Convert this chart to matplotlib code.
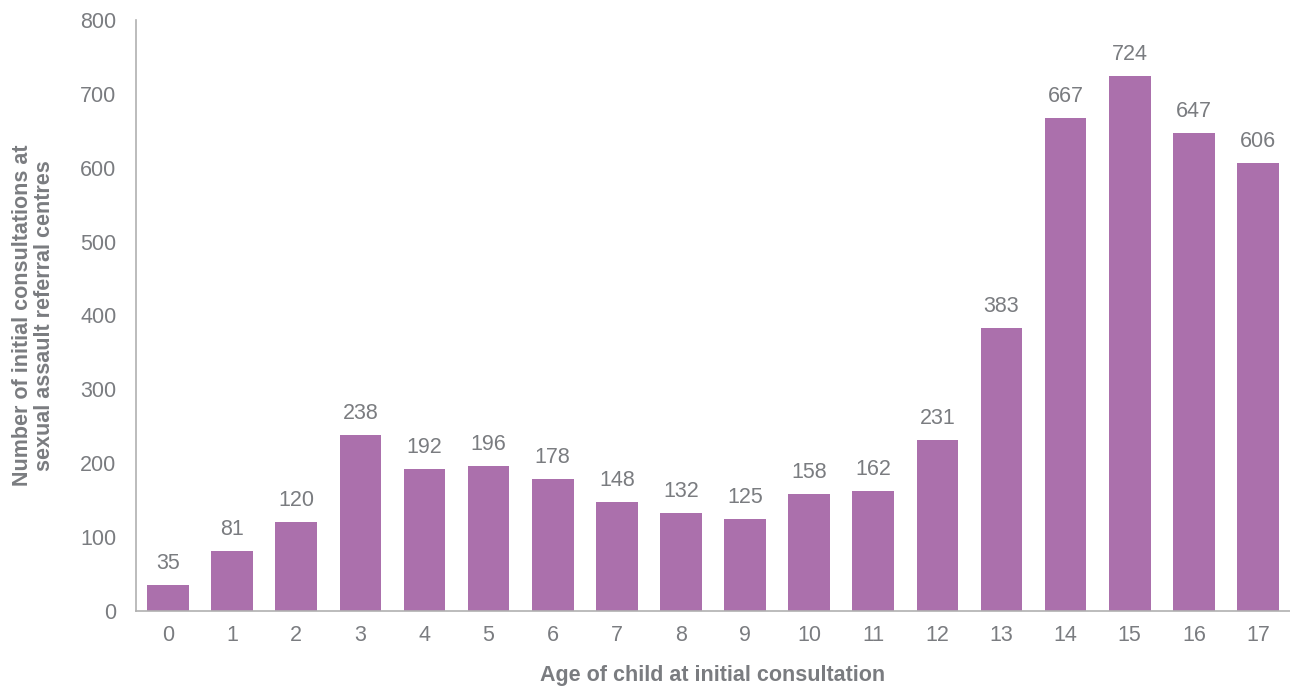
import matplotlib
matplotlib.use("Agg")
import matplotlib.pyplot as plt

ages = [str(a) for a in range(18)]
consultations = [35, 81, 120, 238, 192, 196, 178, 148, 132, 125, 158, 162, 231, 383, 667, 724, 647, 606]

bar_color = "#ab70ac"
text_color = "#7a7c80"
axis_color = "#b0b0b0"

plt.rcParams["font.family"] = ["Liberation Sans", "DejaVu Sans"]

fig = plt.figure(figsize=(12.9, 6.89), dpi=100)
ax = fig.add_axes([0.1054, 0.1132, 0.8946, 0.858])

x = range(len(ages))
bars = ax.bar(x, consultations, width=0.65, color=bar_color)

# etiquetas de valor encima de cada barra
for xi, v in zip(x, consultations):
    ax.annotate(str(v), (xi, v), xytext=(0, 8), textcoords="offset points",
                ha="center", va="bottom", fontsize=15.5, color=text_color)

ax.set_xlim(-0.5, 17.5)
ax.set_ylim(0, 800)
ax.set_yticks(range(0, 801, 100))
ax.set_xticks(list(x))
ax.set_xticklabels(ages)
ax.tick_params(axis="both", length=0, labelsize=15.5, colors=text_color)
ax.tick_params(axis="x", pad=10)
ax.tick_params(axis="y", pad=14)

for side in ["top", "right"]:
    ax.spines[side].set_visible(False)
for side in ["left", "bottom"]:
    ax.spines[side].set_color(axis_color)
    ax.spines[side].set_linewidth(1.2)

ax.set_xlabel("Age of child at initial consultation", fontsize=15.5, fontweight="bold",
              color=text_color, labelpad=14)
ax.set_ylabel("Number of initial consultations at\nsexual assault referral centres", fontsize=15.5,
              fontweight="bold", color=text_color, labelpad=18, linespacing=1.05)

fig.savefig("out.png", dpi=100)
